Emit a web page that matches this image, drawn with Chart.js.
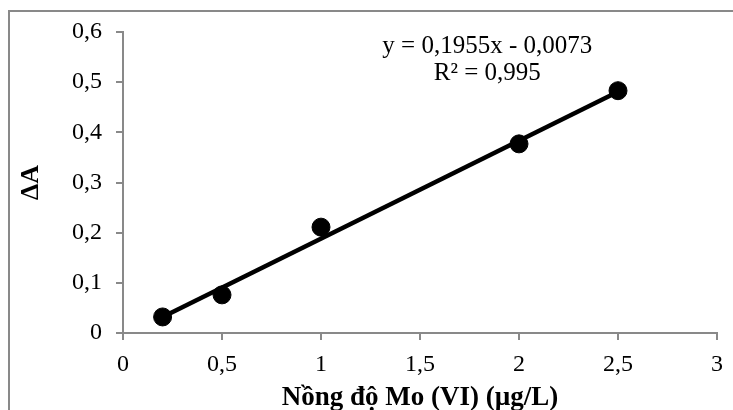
<!DOCTYPE html>
<html>
<head>
<meta charset="utf-8">
<script src="https://cdn.jsdelivr.net/npm/chart.js@4"></script>
<style>
  html, body { margin: 0; padding: 0; background: #fff; }
  #wrap { width: 733px; height: 410px; position: relative; }
</style>
</head>
<body>
<div id="wrap"><canvas id="chart"></canvas></div>
<script>
// Data
const concentrations = [0.2, 0.5, 1, 2, 2.5];
const deltaA = [0.032, 0.076, 0.211, 0.377, 0.483];
const trendX = [0.2, 2.5];
const trendY = [0.032, 0.481];
const equationLines = ['y = 0,1955x - 0,0073', 'R² = 0,995'];

const axisGray = '#898989';
const serif = "'Liberation Serif', 'Times New Roman', serif";
const fmt = v => (Math.round(v * 10) / 10).toString().replace('.', ',');

// Outer frame and equation text
const decor = {
    id: 'decor',
    beforeDraw(chart) {
        const ctx = chart.ctx;
        ctx.save();
        ctx.strokeStyle = axisGray;
        ctx.lineWidth = 2;
        ctx.strokeRect(9, 11, 740, 420);
        ctx.restore();
    },
    afterDraw(chart) {
        const ctx = chart.ctx;
        const xs = chart.scales.x, ys = chart.scales.y;
        ctx.save();
        ctx.fillStyle = '#000';
        ctx.font = '25px ' + serif;
        ctx.textAlign = 'center';
        ctx.textBaseline = 'middle';
        const cx = xs.getPixelForValue(1.84);
        ctx.fillText(equationLines[0], cx, ys.getPixelForValue(0.571));
        ctx.fillText(equationLines[1], cx, ys.getPixelForValue(0.517));
        ctx.restore();
    }
};

new Chart(document.getElementById('chart'), {
    type: 'scatter',
    data: {
        datasets: [{
            label: 'Trend',
            data: trendX.map((x, i) => ({ x: x, y: trendY[i] })),
            showLine: true,
            borderColor: '#000',
            borderWidth: 4.5,
            pointRadius: 0,
            order: 2
        }, {
            label: 'ΔA',
            data: concentrations.map((x, i) => ({ x: x, y: deltaA[i] })),
            backgroundColor: '#000',
            borderColor: '#000',
            pointRadius: 9,
            order: 1
        }]
    },
    options: {
        responsive: true,
        maintainAspectRatio: false,
        animation: false,
        layout: { padding: { left: 0, top: 32, right: 12, bottom: 0 } },
        plugins: {
            legend: { display: false },
            tooltip: { enabled: false }
        },
        scales: {
            x: {
                type: 'linear',
                min: 0,
                max: 3,
                afterFit: s => { s.height = 77; },
                border: { color: axisGray, width: 2 },
                grid: { drawOnChartArea: false, color: axisGray, lineWidth: 2, tickLength: 7 },
                ticks: {
                    stepSize: 0.5,
                    color: '#000',
                    padding: 10,
                    maxRotation: 0,
                    font: { family: serif, size: 24 },
                    callback: fmt
                },
                title: {
                    display: true,
                    text: 'Nồng độ Mo (VI) (µg/L)',
                    color: '#000',
                    padding: { top: 0, bottom: -2 },
                    font: { family: serif, size: 27, weight: 'bold', lineHeight: 1 }
                }
            },
            y: {
                type: 'linear',
                min: 0,
                max: 0.6,
                afterFit: s => { s.width = 123; },
                border: { color: axisGray, width: 2 },
                grid: { drawOnChartArea: false, color: axisGray, lineWidth: 2, tickLength: 7 },
                ticks: {
                    stepSize: 0.1,
                    color: '#000',
                    padding: 14,
                    font: { family: serif, size: 24 },
                    callback: fmt
                },
                title: {
                    display: true,
                    text: 'ΔA',
                    color: '#000',
                    padding: { top: 16 },
                    font: { family: serif, size: 26, weight: 'bold' }
                }
            }
        }
    },
    plugins: [decor]
});
</script>
</body>
</html>
